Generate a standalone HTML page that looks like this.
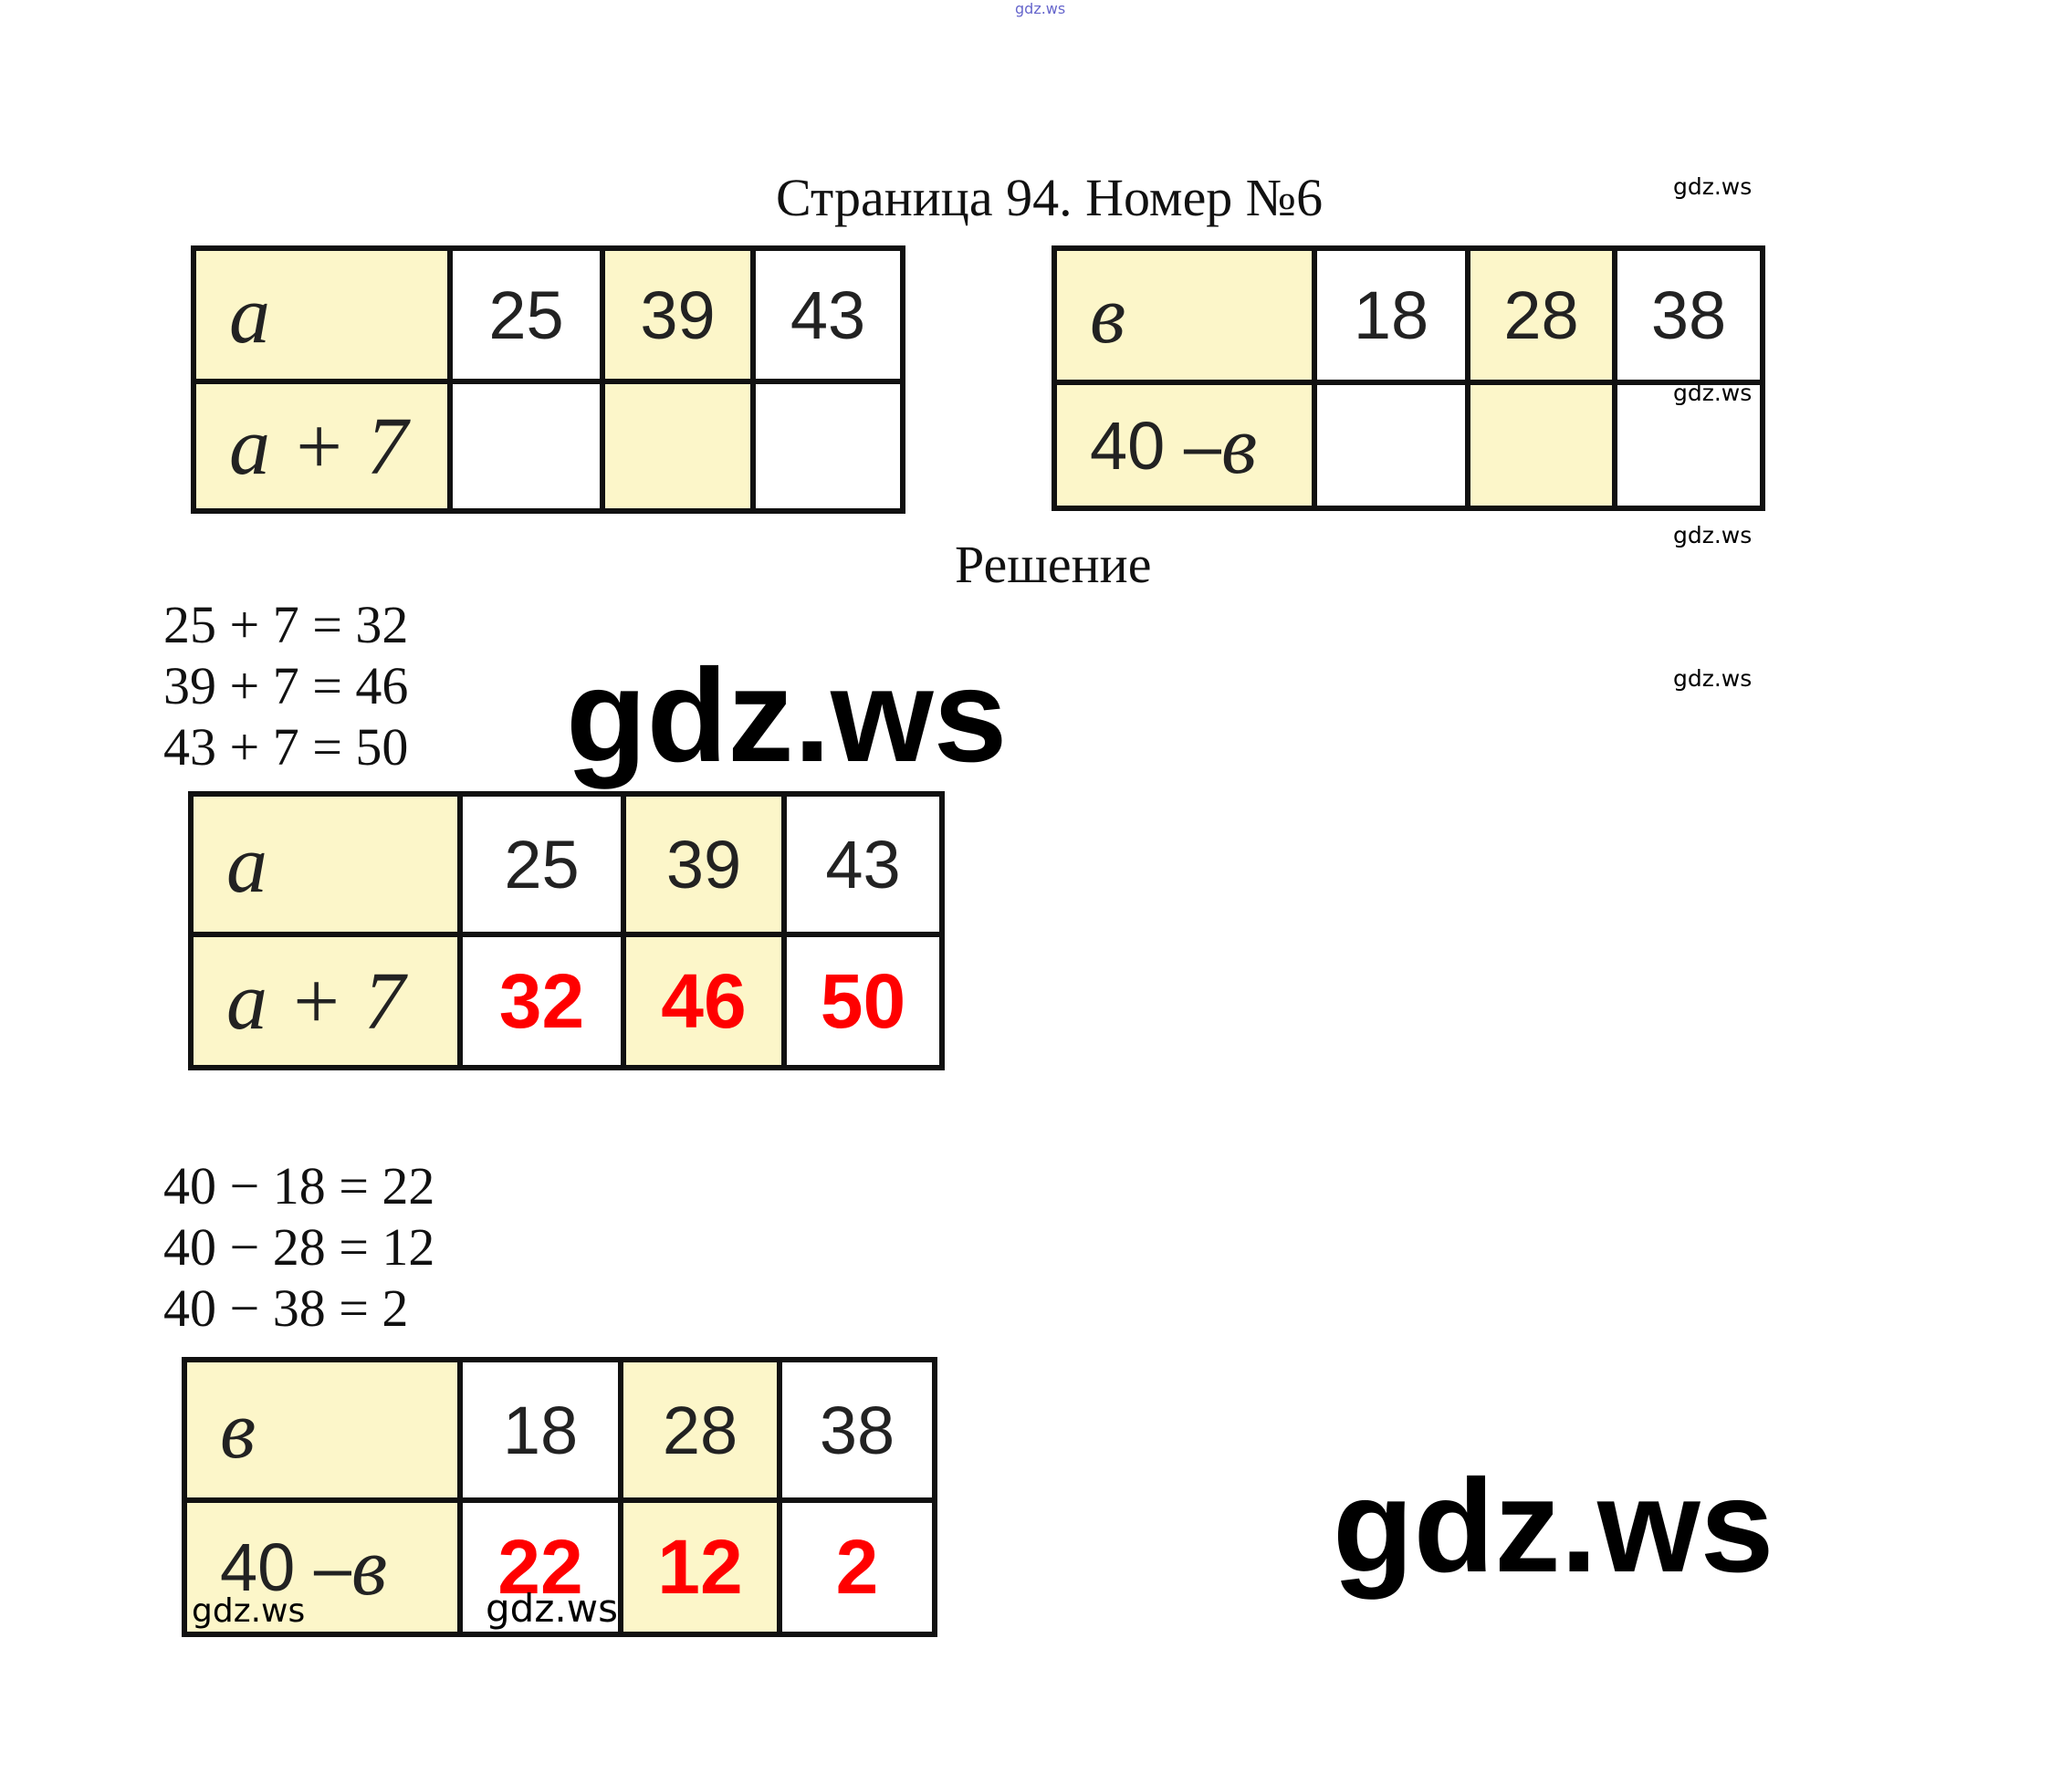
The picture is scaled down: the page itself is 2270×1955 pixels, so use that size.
<!DOCTYPE html>
<html><head><meta charset="utf-8"><style>
body{margin:0;width:2270px;height:1955px;background:#fff;position:relative;overflow:hidden;font-family:"Liberation Sans",sans-serif}
.a{position:absolute}
.t{position:absolute;font-family:"Liberation Serif",serif;color:#111;font-size:58px;white-space:nowrap;line-height:1}
.w{position:absolute;font-family:"DejaVu Sans","Liberation Sans",sans-serif;color:#000;white-space:nowrap;line-height:1}
.b{position:absolute;font-family:"Liberation Sans",sans-serif;font-weight:bold;color:#000;white-space:nowrap;line-height:1;font-size:145px}
.c{position:absolute;box-sizing:border-box;border:6px solid #111;display:flex;align-items:center;justify-content:center;font-size:74px;color:#222}
.y{background:#fcf6c9}
.s{font-family:"Liberation Serif",serif;font-style:italic;justify-content:flex-start;padding-left:36px;font-size:90px;color:#222}
.r{color:#f00;font-weight:bold;font-size:84px}
</style></head><body>
<div class="w" style="left:1112px;top:2px;font-size:16px;color:#66c">gdz.ws</div>
<div class="t" style="left:850px;top:188px">Страница 94. Номер №6</div>
<div class="w" style="left:1833px;top:192px;font-size:25px">gdz.ws</div>
<div class="w" style="left:1833px;top:418px;font-size:25px">gdz.ws</div>
<div class="w" style="left:1833px;top:574px;font-size:25px">gdz.ws</div>
<div class="w" style="left:1833px;top:731px;font-size:25px">gdz.ws</div>

<!-- table 1 -->
<div class="c y s" style="left:209px;top:269px;width:287px;height:152px">a</div>
<div class="c" style="left:490px;top:269px;width:173px;height:152px">25</div>
<div class="c y" style="left:657px;top:269px;width:171px;height:152px">39</div>
<div class="c" style="left:822px;top:269px;width:170px;height:152px">43</div>
<div class="c y s" style="left:209px;top:415px;width:287px;height:148px">a + 7</div>
<div class="c" style="left:490px;top:415px;width:173px;height:148px"></div>
<div class="c y" style="left:657px;top:415px;width:171px;height:148px"></div>
<div class="c" style="left:822px;top:415px;width:170px;height:148px"></div>

<!-- table 2 -->
<div class="c y s" style="left:1152px;top:269px;width:291px;height:153px">в</div>
<div class="c" style="left:1437px;top:269px;width:174px;height:153px">18</div>
<div class="c y" style="left:1605px;top:269px;width:167px;height:153px">28</div>
<div class="c" style="left:1766px;top:269px;width:168px;height:153px">38</div>
<div class="c y s" style="left:1152px;top:416px;width:291px;height:144px;font-family:'Liberation Sans',sans-serif;font-style:normal;font-size:74px">40 –<i style="font-family:'Liberation Serif',serif;font-size:90px">в</i></div>
<div class="c" style="left:1437px;top:416px;width:174px;height:144px"></div>
<div class="c y" style="left:1605px;top:416px;width:167px;height:144px"></div>
<div class="c" style="left:1766px;top:416px;width:168px;height:144px"></div>

<div class="t" style="left:1046px;top:590px">Решение</div>
<div class="t" style="left:179px;top:656px">25 + 7 = 32</div>
<div class="t" style="left:179px;top:723px">39 + 7 = 46</div>
<div class="t" style="left:179px;top:790px">43 + 7 = 50</div>
<div class="b" style="left:620px;top:712px">gdz.ws</div>

<!-- table 3 -->
<div class="c y s" style="left:206px;top:867px;width:301px;height:160px">a</div>
<div class="c" style="left:501px;top:867px;width:185px;height:160px">25</div>
<div class="c y" style="left:680px;top:867px;width:182px;height:160px">39</div>
<div class="c" style="left:856px;top:867px;width:179px;height:160px">43</div>
<div class="c y s" style="left:206px;top:1021px;width:301px;height:152px">a + 7</div>
<div class="c r" style="left:501px;top:1021px;width:185px;height:152px">32</div>
<div class="c y r" style="left:680px;top:1021px;width:182px;height:152px">46</div>
<div class="c r" style="left:856px;top:1021px;width:179px;height:152px">50</div>

<div class="t" style="left:179px;top:1271px">40 − 18 = 22</div>
<div class="t" style="left:179px;top:1338px">40 − 28 = 12</div>
<div class="t" style="left:179px;top:1405px">40 − 38 = 2</div>

<!-- table 4 -->
<div class="c y s" style="left:199px;top:1487px;width:308px;height:160px">в</div>
<div class="c" style="left:501px;top:1487px;width:182px;height:160px">18</div>
<div class="c y" style="left:677px;top:1487px;width:180px;height:160px">28</div>
<div class="c" style="left:851px;top:1487px;width:176px;height:160px">38</div>
<div class="c y s" style="left:199px;top:1641px;width:308px;height:153px;font-family:'Liberation Sans',sans-serif;font-style:normal;font-size:74px">40 –<i style="font-family:'Liberation Serif',serif;font-size:90px">в</i></div>
<div class="c r" style="left:501px;top:1641px;width:182px;height:153px">22</div>
<div class="c y r" style="left:677px;top:1641px;width:180px;height:153px">12</div>
<div class="c r" style="left:851px;top:1641px;width:176px;height:153px">2</div>
<div class="w" style="left:210px;top:1748px;font-size:36px">gdz.ws</div>
<div class="w" style="left:532px;top:1742px;font-size:42px">gdz.ws</div>

<div class="b" style="left:1460px;top:1600px">gdz.ws</div>
</body></html>
